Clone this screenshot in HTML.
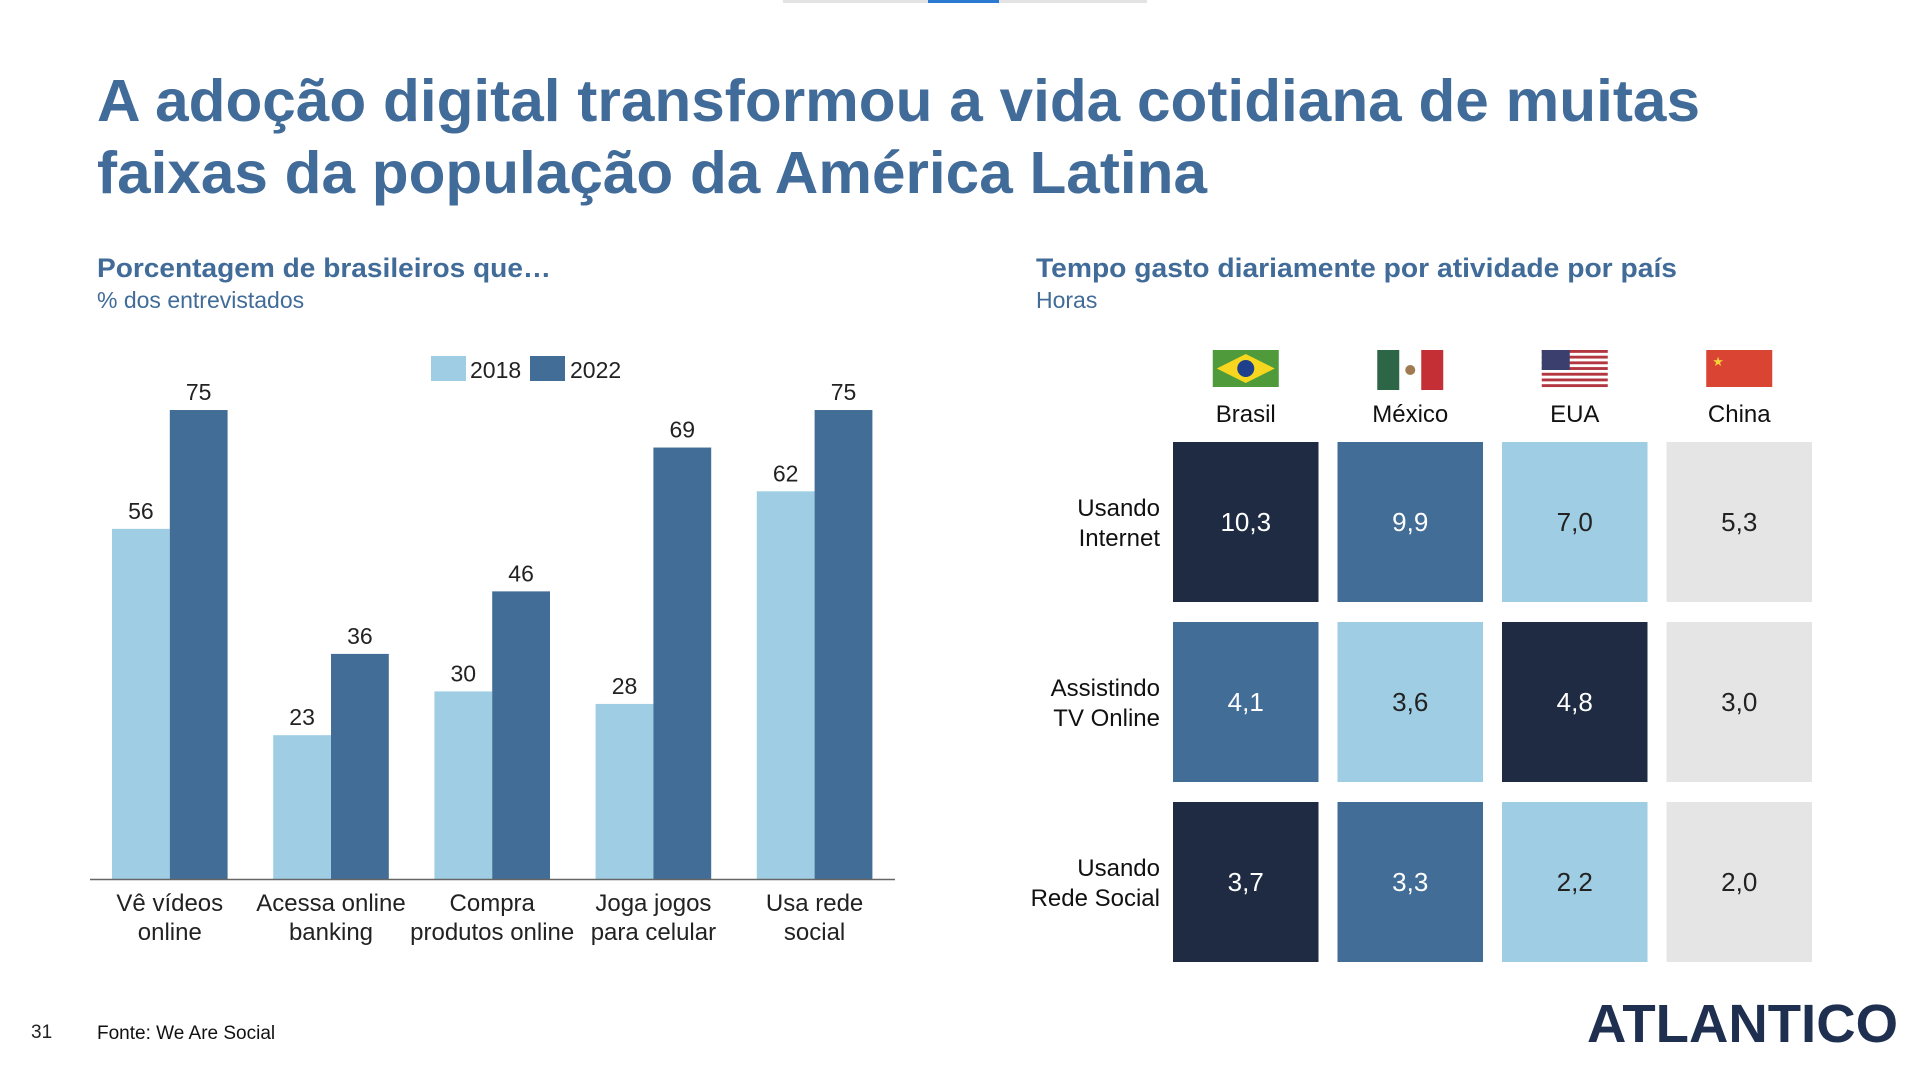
<!DOCTYPE html>
<html><head><meta charset="utf-8"><style>
html,body{margin:0;padding:0;background:#fff;}
svg{display:block;font-family:"Liberation Sans",sans-serif;}
</style></head><body>
<svg width="1920" height="1080" viewBox="0 0 1920 1080">
<rect x="783" y="0" width="364" height="3" fill="#e3e3e3"/>
<rect x="928" y="0" width="71" height="3" fill="#2a7ad1"/>
<g fill="#416b98" font-weight="bold" font-size="59">
<text x="97" y="121" textLength="1603" lengthAdjust="spacingAndGlyphs">A adoção digital transformou a vida cotidiana de muitas</text>
<text x="97" y="193" textLength="1110" lengthAdjust="spacingAndGlyphs">faixas da população da América Latina</text>
</g>
<text x="97" y="277" font-size="27" font-weight="bold" fill="#416b98" textLength="454" lengthAdjust="spacingAndGlyphs">Porcentagem de brasileiros que…</text>
<text x="97" y="308" font-size="23" fill="#416b98">% dos entrevistados</text>
<text x="1036" y="277" font-size="27" font-weight="bold" fill="#416b98" textLength="641" lengthAdjust="spacingAndGlyphs">Tempo gasto diariamente por atividade por país</text>
<text x="1036" y="308" font-size="23" fill="#416b98">Horas</text>
<g id="bars"></g>
<g id="heat"></g>
<text x="31" y="1038" font-size="19" fill="#222">31</text>
<text x="97" y="1039" font-size="19" fill="#111">Fonte: We Are Social</text>
<text x="1587" y="1042" font-size="54" font-weight="bold" fill="#1e2f4f" textLength="311" lengthAdjust="spacingAndGlyphs">ATLANTICO</text>
</svg>
<script>
const NS="http://www.w3.org/2000/svg";
const categories=[["Vê vídeos","online"],["Acessa online","banking"],["Compra","produtos online"],["Joga jogos","para celular"],["Usa rede","social"]];
const values2018=[56,23,30,28,62];
const values2022=[75,36,46,69,75];
const seriesNames=["2018","2022"];
const countries=["Brasil","México","EUA","China"];
const activities=[["Usando","Internet"],["Assistindo","TV Online"],["Usando","Rede Social"]];
const hours=[[10.3,9.9,7.0,5.3],[4.1,3.6,4.8,3.0],[3.7,3.3,2.2,2.0]];

function mk(tag,attrs,parent,txt){const e=document.createElementNS(NS,tag);for(const k in attrs)e.setAttribute(k,attrs[k]);if(txt!==undefined)e.textContent=txt;parent.appendChild(e);return e;}
const C_L="#9fcee4",C_D="#426d96";
const bars=document.getElementById("bars");
const base=879,perUnit=6.253,x0=169.8,step=161.2,bw=57.8;
const yS=v=>base-v*perUnit;
const xS=i=>x0+i*step;
categories.forEach((c,i)=>{
  [[values2018,C_L,-1],[values2022,C_D,0]].forEach(([arr,col,off],s)=>{
    const v=arr[i];
    const r=mk("rect",{x:xS(i)+off*bw,y:yS(v),width:bw,height:v*perUnit,fill:col},bars);
    
    
    const t=mk("text",{x:xS(i)+off*bw+bw/2,y:yS(v)-10,"text-anchor":"middle","font-size":23,fill:"#222"},bars,String(v));
    
    
  });
  const l=mk("text",{x:xS(i),y:911,"text-anchor":"middle","font-size":24,fill:"#222"},bars);
  
  
  c.forEach((ln,k)=>mk("tspan",{x:xS(i),dy:k?29:0},l,ln));
});
const ax=mk("line",{x1:90,x2:895,y1:879.5,y2:879.5,stroke:"#666","stroke-width":1.5},bars);


[[431,C_L,"2018",470],[530,C_D,"2022",570]].forEach(([x,col,lab,tx])=>{
  const g=mk("g",{},bars);
  
  
  mk("rect",{x:x,y:356,width:35,height:25,fill:col},g);
  mk("text",{x:tx,y:378,"font-size":23,fill:"#222"},g,lab);
});
const heat=document.getElementById("heat");
const cx0=1173,cstep=164.5,cw=145.5,ry0=442,rstep=180,rh=160;
const rankCols=["#1e2b42","#426d96","#9fcde3","#e5e5e5"];
const rankText=["#fff","#fff","#222","#222"];
countries.forEach((c,j)=>{
  const x=cx0+j*cstep+cw/2;
  const t=mk("text",{x:x,y:422,"text-anchor":"middle","font-size":24,fill:"#111"},heat,c);
  
  
  const f=mk("g",{transform:`translate(${x-33},350)`},heat);
  
  
  if(j==0){mk("rect",{width:66,height:37,fill:"#4f9a3a"},f);mk("polygon",{points:"33,4 62,18.5 33,33 4,18.5",fill:"#f6d61e"},f);mk("circle",{cx:33,cy:18.5,r:8.5,fill:"#1d3f8c"},f);}
  if(j==1){mk("rect",{width:66,height:40,fill:"#fff"},f);mk("rect",{width:22,height:40,fill:"#2c6647"},f);mk("rect",{x:44,width:22,height:40,fill:"#c32f35"},f);mk("circle",{cx:33,cy:20,r:5,fill:"#a07a50"},f);}
  if(j==2){mk("rect",{width:66,height:37,fill:"#fff"},f);for(let k=0;k<7;k++)mk("rect",{y:k*5.7,width:66,height:2.85,fill:"#b2353f"},f);mk("rect",{width:28,height:20,fill:"#3b3f6e"},f);}
  if(j==3){mk("rect",{width:66,height:37,fill:"#d94433"},f);mk("text",{x:6,y:16,"font-size":13,fill:"#f5d33a"},f,"★");}
});
activities.forEach((a,i)=>{
  const y=ry0+i*rstep;
  const l=mk("text",{x:1160,y:y+74,"text-anchor":"end","font-size":24,fill:"#111"},heat);
  
  
  a.forEach((ln,k)=>mk("tspan",{x:1160,dy:k?30:0},l,ln));
  const sorted=[...hours[i]].sort((p,q)=>q-p);
  hours[i].forEach((v,j)=>{
    const rank=sorted.indexOf(v);
    const x=cx0+j*cstep;
    const r=mk("rect",{x:x,y:y,width:cw,height:rh,fill:rankCols[rank]},heat);
    
    
    const t=mk("text",{x:x+cw/2,y:y+rh/2+9,"text-anchor":"middle","font-size":26,fill:rankText[rank]},heat,v.toFixed(1).replace(".",","));
    
    
  });
});
</script>
</body></html>
